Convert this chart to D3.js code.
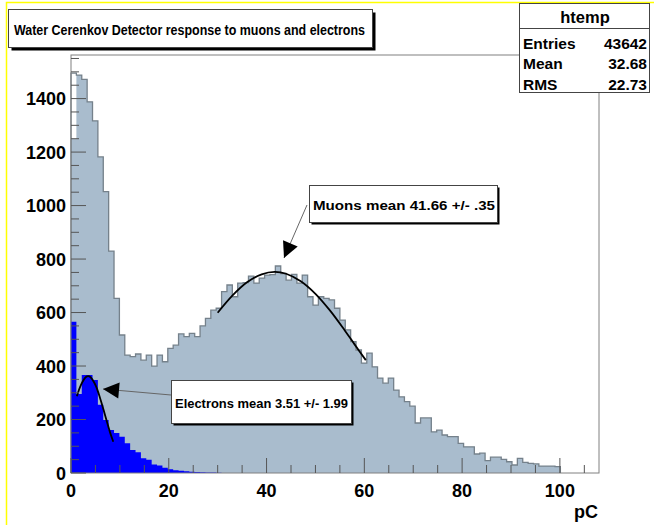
<!DOCTYPE html>
<html><head><meta charset="utf-8">
<script src="https://cdn.jsdelivr.net/npm/d3@7"></script>
<style>body{margin:0;background:#fff}svg{display:block}text{font-family:"Liberation Sans",Arial,sans-serif;font-weight:bold}</style>
</head><body>
<svg id="c" width="654" height="525"></svg>
<script>
// ---- data ----
const binWidth = 1.1; // pC
const muonCounts = [1495,1488,1472,1388,1317,1182,1052,830,653,516,
 441,435,445,422,441,400,441,416,466,478,
 520,510,522,510,550,578,609,616,678,703,
 659,710,712,736,710,729,740,742,774,746,
 721,743,710,740,659,628,659,653,647,616,
 572,535,491,460,411,448,397,355,336,355,
 310,285,267,250,187,206,206,154,160,142,
 136,136,111,98,98,71,74,46,59,59,
 51,42,30,55,40,36,34,26,26,26,24];
const firstBinFill = [1250];
const elecCounts = [566,295,366,366,348,255,198,161,150,136,111,86,78,55,50,32,28,20,14,10,8,7,5,4,3,2,2,1];
const muonFitX = [30,33,36,39,41.66,44,47,50,53,56,58,60.3];
const muonFitY = [599,663,713,743,752,745,717,670,607,533,481,422];
const elecFitX = [1.2,2,3,3.51,4,5,6,7,8,8.65];
const elecFitY = [287,328,358,362,358,329,277,214,151,117];
const xTicks = [0,20,40,60,80,100];
const yTicks = [0,200,400,600,800,1000,1200,1400];
const statsRows = [["Entries","43642"],["Mean","32.68"],["RMS","22.73"]];
const title = "Water Cerenkov Detector response to muons and electrons";
const muonLabel = "Muons mean 41.66 +/- .35";
const elecLabel = "Electrons mean 3.51 +/- 1.99";

const svg = d3.select("#c");
svg.append("rect").attr("width",654).attr("height",525).attr("fill","#fff");
// yellow canvas border
svg.append("path").attr("d","M6.5,525 V2.5 H654").attr("fill","none").attr("stroke","#ffff00").attr("stroke-width",1.5);

const x = d3.scaleLinear().domain([0,108]).range([71,599]);
const y = d3.scaleLinear().domain([0,1563]).range([473,55]);

function stepPts(counts){
  const pts=[];
  counts.forEach((c,i)=>{pts.push([i*binWidth,c]);pts.push([(i+1)*binWidth,c]);});
  return pts;
}
const area = d3.area().x(d=>x(d[0])).y0(y(0)).y1(d=>y(d[1]));
const line = d3.line().x(d=>x(d[0])).y(d=>y(d[1]));

// muon (total) histogram
const muFill = muonCounts.slice(); muFill[0] = firstBinFill[0];
svg.append("path").attr("d",area(stepPts(muFill))).attr("fill","#a9bccd");
const muPts = stepPts(muonCounts);
muPts.unshift([0,0]); muPts.push([muonCounts.length*binWidth,0]);
svg.append("path").attr("d",line(muPts)).attr("fill","none").attr("stroke","#75818b").attr("stroke-width",1.3);

// electron histogram
svg.append("path").attr("d",area(stepPts(elecCounts))).attr("fill","#0000ff");

// fits
const fitLine = d3.line().x(d=>x(d[0])).y(d=>y(d[1])).curve(d3.curveCatmullRom);
svg.append("path").attr("d",fitLine(muonFitX.map((v,i)=>[v,muonFitY[i]]))).attr("fill","none").attr("stroke","#000").attr("stroke-width",1.8);
svg.append("path").attr("d",fitLine(elecFitX.map((v,i)=>[v,elecFitY[i]]))).attr("fill","none").attr("stroke","#000").attr("stroke-width",1.8);

// frame
svg.append("rect").attr("x",71).attr("y",55).attr("width",528).attr("height",418).attr("fill","none").attr("stroke","#808080").attr("stroke-width",1);

// axes: ticks inside
const tc = "#555";
const yMinor = d3.range(0,1551,50);
yMinor.forEach(v=>{
  const major = v%200===0;
  svg.append("line").attr("x1",x(0)).attr("x2",x(0)+(major?15:8)).attr("y1",y(v)).attr("y2",y(v)).attr("stroke",tc).attr("stroke-width",1);
});
const xMinor = d3.range(0,106,5);
xMinor.forEach(v=>{
  const major = v%20===0;
  svg.append("line").attr("x1",x(v)).attr("x2",x(v)).attr("y1",y(0)).attr("y2",y(0)-(major?15:8)).attr("stroke",tc).attr("stroke-width",1);
});
svg.selectAll(".yl").data(yTicks).enter().append("text").attr("x",66).attr("y",d=>y(d)+6.5).attr("text-anchor","end").attr("font-size",18).text(d=>d);
svg.selectAll(".xl").data(xTicks).enter().append("text").attr("x",d=>x(d)).attr("y",497).attr("text-anchor","middle").attr("font-size",18).text(d=>d);
svg.append("text").attr("x",598).attr("y",518).attr("text-anchor","end").attr("font-size",18).text("pC");

// boxes with shadow
function shadowBox(x0,y0,w,h,sh){
  svg.append("rect").attr("x",x0+sh).attr("y",y0+sh).attr("width",w).attr("height",h).attr("fill","#000");
  svg.append("rect").attr("x",x0).attr("y",y0).attr("width",w).attr("height",h).attr("fill","#fff").attr("stroke","#444").attr("stroke-width",1);
}
shadowBox(8.5,9.5,364,38,3);
svg.append("text").attr("x",14).attr("y",34.5).attr("font-size",14).attr("textLength",351).attr("lengthAdjust","spacingAndGlyphs").text(title);

// stats box
svg.append("rect").attr("x",519.5).attr("y",3.5).attr("width",130).attr("height",89).attr("fill","#fff").attr("stroke","#444");
svg.append("line").attr("x1",519.5).attr("x2",649.5).attr("y1",28.5).attr("y2",28.5).attr("stroke","#444");
svg.append("text").attr("x",585).attr("y",23).attr("text-anchor","middle").attr("font-size",16.5).text("htemp");
statsRows.forEach((r,i)=>{
  svg.append("text").attr("x",523).attr("y",48.5+i*20.5).attr("font-size",15.5).text(r[0]);
  svg.append("text").attr("x",647).attr("y",48.5+i*20.5).attr("text-anchor","end").attr("font-size",15.5).text(r[1]);
});

// annotations
function arrow(x1,y1,x2,y2){
  svg.append("line").attr("x1",x1).attr("y1",y1).attr("x2",x2).attr("y2",y2).attr("stroke","#666").attr("stroke-width",1);
  const dx=x2-x1, dy=y2-y1, L=Math.hypot(dx,dy), ux=dx/L, uy=dy/L;
  const len=16, hw=8;
  const bx=x2-ux*len, by=y2-uy*len;
  svg.append("path").attr("d",`M${x2},${y2}L${bx-uy*hw},${by+ux*hw}L${bx+uy*hw},${by-ux*hw}Z`).attr("fill","#000");
}
shadowBox(309.5,185.5,188,37,2);
svg.append("text").attr("x",313).attr("y",209.5).attr("font-size",13.5).attr("textLength",182).attr("lengthAdjust","spacingAndGlyphs").text(muonLabel);
arrow(307,205,284,258);

shadowBox(171.5,380.5,180,43,2);
svg.append("text").attr("x",175).attr("y",407.5).attr("font-size",13.5).attr("textLength",173).attr("lengthAdjust","spacingAndGlyphs").text(elecLabel);
arrow(171,395,103,389);
</script>
</body></html>
